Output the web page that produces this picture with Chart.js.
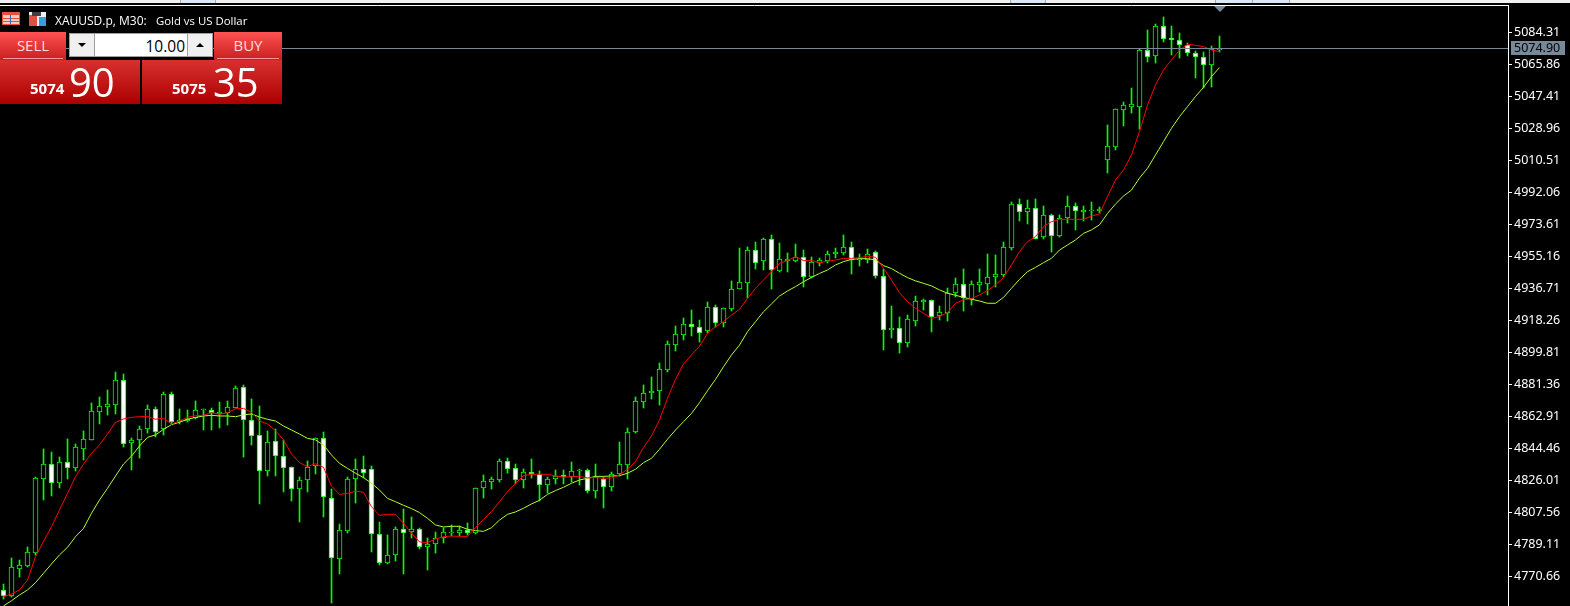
<!DOCTYPE html>
<html>
<head>
<meta charset="utf-8">
<title>XAUUSD.p, M30</title>
<script src="https://cdn.jsdelivr.net/npm/chart.js@4"></script>
<style>
html,body{margin:0;padding:0;background:#000;width:1570px;height:606px;overflow:hidden}
#c{position:absolute;left:0;top:0}
.abs{position:absolute;box-sizing:border-box}
#strip{left:0;top:0;width:1570px;height:3px;background:#f0f0f0}
#strip s{position:absolute;top:0;height:3px;background:#dce8f6;border-left:1px solid #a8a8a8;border-right:1px solid #a8a8a8;box-sizing:border-box}
#title{left:55px;top:12px;color:#fff;font:12px "Open Sans";white-space:pre}
#title span{font-size:11.4px;margin-left:3px}
.btn{top:32px;height:28px;background:linear-gradient(#ff5252,#c81e1e);color:#ffdcdc;font:15px "Open Sans";text-align:center;line-height:26px}
.btn i{position:absolute;left:3px;right:3px;bottom:1px;height:1px;background:#ff9a9a}
.box{top:60px;height:44px;background:linear-gradient(#d83030,#ac0000);color:#fff;white-space:nowrap}
.box b{position:absolute;font:bold 15px "Open Sans";top:18px}
.box span{position:absolute;font:40px "Open Sans";top:-6px}
#spin{left:69px;top:33px;width:144px;height:24px;background:#fff;border:1px solid #a0a0a0}
#spin div{position:absolute;top:0;height:22px;width:24px;background:#f0f0f0;border-right:1px solid #a0a0a0}
#spin u{position:absolute;left:8px;width:0;height:0;border-left:4px solid transparent;border-right:4px solid transparent}
#lots{position:absolute;right:27px;top:1px;font:15.5px "Open Sans";color:#000}
</style>
</head>
<body>
<canvas id="c" width="1570" height="606"></canvas>
<div class="abs" id="strip"><s style="left:180px;width:36px"></s><s style="left:1010px;width:36px"></s><s style="left:1215px;width:38px"></s><s style="left:1252px;width:38px"></s></div>
<svg class="abs" style="left:2px;top:12px" width="46" height="14">
<rect x="0" y="0" width="18" height="13" fill="#e8503c"/><rect x="1" y="3" width="16" height="3" fill="#f4c8c0"/><rect x="1" y="7" width="16" height="2" fill="#f4c8c0"/><rect x="1" y="10" width="16" height="2" fill="#f4c8c0"/><rect x="8" y="3" width="1" height="9" fill="#3060c0"/>
<rect x="27" y="0" width="17" height="14" fill="#e8f0f8"/><rect x="27" y="3" width="8" height="11" fill="#e05040"/><rect x="37" y="5" width="7" height="9" fill="#3a9be0"/><rect x="30" y="0" width="9" height="4" fill="#404040"/>
</svg>
<div class="abs" id="title">XAUUSD.p, M30:  <span>Gold vs US Dollar</span></div>
<div class="abs btn" style="left:0;width:66px">SELL<i></i></div>
<div class="abs btn" style="left:214px;width:68px">BUY<i></i></div>
<div class="abs" id="spin">
<div style="left:0"><u style="top:9px;border-top:4px solid #000"></u></div>
<div style="right:0;left:auto;border-right:0;border-left:1px solid #a0a0a0"><u style="top:9px;border-bottom:4px solid #000"></u></div>
<span id="lots">10.00</span>
</div>
<div class="abs box" style="left:0;width:140px"><b style="left:30px">5074</b><span style="left:69px">90</span></div>
<div class="abs box" style="left:142px;width:140px"><b style="left:30px">5075</b><span style="left:71px">35</span></div>
<script>
var tickValues = [5084.31,5065.86,5047.41,5028.96,5010.51,4992.06,4973.61,4955.16,4936.71,4918.26,4899.81,4881.36,4862.91,4844.46,4826.01,4807.56,4789.11,4770.66];
var currentPrice = 5074.90;

var opens = [4762.7,4759.6,4775.2,4776.9,4784.4,4827.1,4835.3,4824.8,4836.5,4833.4,
4844.4,4849.6,4865.7,4868.6,4869.7,4883.8,4847.4,4849.6,4855.5,4867.1,
4855.5,4875.7,4859.6,4860.1,4861.9,4866.5,4866.9,4864.2,4865.1,4868.0,
4879.7,4860.7,4852.1,4831.3,4848.6,4840.0,4833.6,4820.9,4826.1,4834.2,
4850.3,4815.7,4780.9,4797.1,4826.7,4832.5,4832.5,4795.0,4778.3,4782.9,
4797.9,4796.1,4797.9,4787.5,4789.2,4792.7,4795.9,4795.9,4797.3,4795.6,
4821.5,4825.3,4826.5,4837.1,4833.0,4826.1,4830.7,4829.6,4823.2,4826.7,
4829.0,4827.8,4831.3,4831.9,4819.8,4827.1,4822.1,4829.6,4834.8,4854.2,
4871.5,4876.3,4877.8,4889.9,4904.3,4910.1,4916.0,4914.3,4912.0,4925.8,
4917.0,4925.1,4936.6,4940.1,4958.7,4952.4,4965.1,4947.0,4952.8,4952.8,
4955.1,4943.3,4951.4,4952.8,4956.4,4957.4,4960.4,4953.0,4953.4,4957.6,
4943.8,4913.0,4913.8,4905.5,4918.2,4929.1,4929.9,4921.1,4922.8,4934.1,
4939.1,4930.5,4938.9,4939.5,4943.2,4944.5,4960.3,4985.3,4980.7,4983.0,
4966.2,4978.9,4966.8,4977.2,4984.1,4981.0,4981.2,4981.2,5011.0,5018.5,
5039.8,5041.5,5041.5,5074.0,5071.0,5087.9,5081.0,5079.8,5076.9,5072.3,
5070.0,5065.4,5074.6];
var closes = [4759.6,4776.0,4777.1,4784.6,4827.3,4835.3,4824.8,4836.5,4833.4,4845.1,
4849.8,4865.9,4868.8,4869.9,4883.8,4847.3,4849.2,4855.5,4867.1,4854.2,
4875.7,4859.9,4860.7,4861.5,4866.9,4867.1,4864.9,4865.3,4868.2,4879.2,
4860.7,4851.9,4831.3,4848.0,4840.0,4833.4,4820.9,4826.1,4833.6,4850.3,
4816.3,4781.1,4797.3,4826.7,4832.5,4830.5,4795.0,4778.3,4782.9,4797.9,
4795.6,4797.9,4787.5,4789.2,4792.7,4796.5,4796.5,4797.3,4795.6,4821.5,
4825.5,4826.7,4837.1,4832.5,4826.1,4830.7,4829.8,4823.2,4826.7,4828.8,
4828.0,4831.3,4832.1,4819.8,4828.0,4822.1,4829.6,4835.3,4853.8,4871.7,
4876.3,4877.8,4890.1,4904.5,4910.3,4916.0,4914.7,4911.2,4925.8,4917.0,
4925.3,4936.2,4940.3,4958.7,4951.6,4965.1,4947.2,4953.5,4953.5,4955.1,
4943.5,4951.8,4952.9,4956.4,4957.6,4960.4,4953.3,4953.9,4956.8,4944.1,
4913.0,4913.8,4905.5,4919.0,4929.3,4929.9,4920.5,4923.0,4934.1,4939.1,
4931.5,4939.1,4940.3,4943.2,4944.9,4960.4,4985.3,4980.7,4983.0,4965.5,
4978.9,4966.8,4977.2,4984.1,4981.2,4981.8,4981.8,4982.6,5018.7,5040.0,
5042.3,5042.9,5074.0,5070.4,5087.9,5080.8,5079.8,5076.9,5072.3,5070.4,
5065.4,5074.6,5075.0];
var highs = [4766.3,4781.1,4780.0,4787.7,4828.0,4844.2,4842.3,4839.6,4849.9,4847.1,
4854.6,4870.7,4874.2,4878.2,4888.4,4887.4,4850.3,4857.4,4869.4,4868.4,
4876.9,4876.9,4867.1,4866.5,4871.7,4867.1,4867.6,4871.1,4871.7,4880.3,
4880.9,4872.8,4868.8,4854.6,4855.5,4849.6,4834.0,4827.8,4837.1,4850.3,
4853.8,4821.1,4800.9,4827.8,4838.4,4840.0,4834.2,4801.9,4794.6,4799.0,
4809.6,4804.8,4798.4,4792.9,4796.1,4798.4,4800.2,4799.6,4801.3,4821.7,
4829.2,4828.0,4838.2,4838.8,4835.3,4832.5,4838.4,4831.5,4828.0,4832.1,
4832.1,4836.5,4832.5,4832.5,4835.3,4828.0,4830.7,4848.2,4856.1,4874.0,
4880.9,4885.5,4893.6,4906.2,4914.9,4919.7,4924.3,4918.5,4928.7,4927.0,
4925.3,4941.0,4960.1,4960.4,4963.5,4965.6,4967.6,4962.9,4957.2,4962.4,
4958.9,4954.7,4954.1,4958.1,4959.9,4967.6,4963.3,4956.6,4959.3,4958.2,
4948.0,4926.6,4920.1,4921.3,4932.2,4930.7,4929.9,4926.6,4936.8,4942.8,
4948.0,4940.9,4948.0,4956.6,4956.0,4963.5,4986.4,4988.2,4987.8,4988.3,
4984.3,4979.5,4978.9,4990.1,4986.0,4984.1,4986.4,4983.5,5031.0,5040.0,
5044.3,5052.3,5074.6,5085.8,5089.0,5093.1,5087.9,5084.0,5078.1,5073.4,
5073.1,5076.3,5082.3];
var lows = [4757.9,4758.7,4770.4,4776.1,4783.1,4814.8,4817.1,4821.7,4826.9,4831.5,
4837.8,4849.6,4858.6,4863.8,4864.4,4845.3,4832.1,4839.0,4853.4,4851.1,
4852.3,4858.6,4858.6,4859.6,4861.5,4855.1,4855.1,4856.3,4858.0,4867.6,
4839.6,4846.5,4812.5,4828.6,4828.6,4819.4,4814.2,4802.1,4819.4,4829.8,
4805.0,4755.4,4772.1,4795.7,4812.9,4827.3,4784.8,4777.3,4777.9,4779.6,
4772.1,4792.9,4786.5,4774.4,4784.2,4790.0,4794.2,4794.0,4794.6,4795.2,
4815.9,4821.1,4825.3,4830.3,4823.8,4821.7,4827.3,4814.4,4818.8,4824.0,
4824.0,4825.2,4823.4,4818.8,4815.9,4810.2,4820.0,4828.4,4827.1,4853.6,
4867.6,4873.0,4869.5,4888.6,4900.7,4907.0,4909.3,4905.9,4911.2,4914.5,
4914.7,4923.9,4936.6,4931.0,4947.9,4947.4,4936.4,4946.2,4946.2,4952.2,
4937.6,4942.6,4949.9,4951.6,4954.1,4956.0,4945.1,4949.7,4951.6,4942.8,
4901.3,4908.2,4899.5,4903.0,4915.1,4924.3,4911.7,4918.6,4918.0,4931.8,
4923.8,4927.2,4934.5,4933.0,4937.6,4943.6,4958.9,4975.7,4973.7,4965.1,
4965.5,4957.8,4966.6,4974.5,4970.5,4975.7,4976.2,4980.1,5003.5,5016.6,
5030.4,5037.9,5028.7,5067.3,5066.7,5078.8,5071.3,5069.6,5070.8,5058.1,
5052.3,5052.9,5073.3];
var maFast = [4759.0,4760.6,4762.9,4768.6,4782.1,4790.8,4799.4,4809.0,4818.6,4828.2,
4835.5,4841.7,4846.5,4852.8,4859.6,4861.5,4862.4,4862.8,4863.0,4861.3,
4861.9,4858.6,4860.3,4862.4,4863.4,4863.6,4865.1,4864.2,4865.1,4867.4,
4867.6,4865.3,4860.3,4858.6,4854.8,4849.4,4841.3,4836.3,4834.0,4835.7,
4833.6,4822.8,4818.0,4818.6,4819.8,4819.2,4810.9,4805.9,4806.5,4806.5,
4801.3,4795.6,4790.6,4790.2,4792.3,4793.6,4794.0,4793.8,4793.8,4798.8,
4803.6,4808.1,4813.8,4819.6,4824.4,4828.8,4829.6,4829.6,4829.6,4828.6,
4828.0,4828.2,4828.4,4827.5,4827.7,4827.3,4827.5,4829.2,4832.5,4836.9,
4845.1,4851.7,4860.9,4873.4,4884.3,4893.2,4898.4,4903.5,4910.9,4914.7,
4917.6,4921.4,4924.7,4931.0,4936.8,4941.6,4946.4,4951.2,4952.8,4955.1,
4952.8,4952.8,4951.6,4952.4,4953.1,4954.1,4954.1,4954.5,4955.3,4954.7,
4948.4,4941.6,4934.3,4929.1,4925.3,4922.4,4919.5,4920.5,4922.8,4928.2,
4930.1,4930.9,4933.0,4935.5,4938.8,4943.0,4950.3,4958.0,4963.7,4966.6,
4972.4,4975.3,4976.6,4976.6,4976.6,4976.6,4978.5,4979.7,4989.7,4999.3,
5005.1,5013.7,5027.2,5042.5,5054.1,5062.7,5068.5,5074.2,5077.5,5076.9,
5076.2,5074.2,5073.3];
var maSlow = [4753.7,4756.7,4760.0,4762.9,4767.1,4772.5,4777.9,4783.1,4787.5,4793.6,
4798.4,4807.1,4814.8,4821.5,4828.6,4835.5,4840.1,4845.9,4850.9,4852.3,
4855.5,4858.2,4859.6,4861.3,4862.4,4863.2,4863.6,4863.2,4863.2,4862.8,
4863.8,4864.4,4862.6,4861.3,4860.3,4857.4,4855.1,4852.8,4850.3,4849.4,
4846.5,4840.7,4835.9,4833.0,4830.2,4827.7,4824.4,4820.5,4815.7,4813.8,
4811.7,4809.8,4807.5,4804.2,4800.4,4799.2,4799.6,4799.6,4797.9,4797.1,
4796.7,4798.8,4803.2,4806.5,4807.9,4810.0,4812.5,4814.6,4818.0,4820.2,
4822.1,4824.4,4826.3,4827.3,4828.4,4828.4,4828.6,4828.8,4830.2,4832.5,
4836.3,4838.8,4844.0,4849.8,4855.1,4859.9,4864.7,4870.9,4877.8,4884.3,
4891.6,4898.4,4904.1,4911.8,4917.6,4923.3,4927.8,4932.4,4935.3,4937.8,
4940.6,4943.1,4945.4,4947.4,4950.3,4952.2,4953.5,4953.9,4953.9,4953.2,
4949.9,4948.2,4945.5,4943.0,4941.1,4939.7,4938.2,4935.9,4934.0,4932.8,
4931.6,4930.5,4929.5,4928.2,4928.2,4931.6,4936.8,4942.0,4946.4,4948.9,
4951.6,4954.1,4958.9,4961.8,4964.7,4968.5,4970.5,4973.4,4980.0,4985.4,
4990.0,4993.5,5000.4,5006.0,5013.7,5021.4,5029.1,5035.8,5041.6,5047.4,
5052.7,5058.9,5064.1];

var bodyData = opens.map(function(o,i){return {x:i,y:[o,closes[i]]};});
var wickData = highs.map(function(h,i){return {x:i,y:[lows[i],h]};});
var fastData = maFast.map(function(v,i){return {x:i,y:v};});
var slowData = maSlow.map(function(v,i){return {x:i,y:v};});

// snap bar edges to whole pixels, terminal charts are not antialiased
var snapBars = {
    id:'snapBars',
    afterDatasetsUpdate:function(chart){
        chart.data.datasets.forEach(function(ds,n){
            if(ds.type !== 'bar') return;
            chart.getDatasetMeta(n).data.forEach(function(el){
                var a = Math.round(el.y), b = Math.round(el.base);
                if(a === b) b = a+1;
                el.y = a; el.base = b; el.height = Math.abs(b-a);
            });
        });
    }
};

var priceMarks = {
    id:'priceMarks',
    afterDatasetsDraw:function(chart){
        var ctx = chart.ctx, y = chart.scales.y, x = chart.scales.x;
        var py = Math.floor(y.getPixelForValue(currentPrice))+0.5;
        ctx.save();
        ctx.strokeStyle = '#778899';
        ctx.lineWidth = 1;
        ctx.beginPath();
        ctx.moveTo(0,py);
        ctx.lineTo(chart.chartArea.right,py);
        ctx.stroke();
        // marker above the last bar
        var mx = x.getPixelForValue(opens.length-1)+0.5;
        ctx.fillStyle = '#778899';
        ctx.beginPath();
        ctx.moveTo(mx-6,6);
        ctx.lineTo(mx+6,6);
        ctx.lineTo(mx,12);
        ctx.fill();
        ctx.fillRect(1511,41,54,14);
        ctx.fillStyle = '#000';
        ctx.font = '12.5px "Noto Sans"';
        ctx.textBaseline = 'middle';
        ctx.fillText(currentPrice.toFixed(2),1514,48);
        ctx.restore();
    }
};

new Chart(document.getElementById('c'),{
    type:'bar',
    data:{
        datasets:[
            {type:'line',data:fastData,borderColor:'#ff0000',borderWidth:1,pointRadius:0,tension:0,order:1},
            {type:'line',data:slowData,borderColor:'#adff2f',borderWidth:1,pointRadius:0,tension:0,order:2},
            {type:'bar',data:bodyData,barThickness:5,borderWidth:1,borderColor:'#00ff00',borderSkipped:false,
                backgroundColor:function(c){
                    var i = c.dataIndex;
                    return closes[i] < opens[i] ? '#ffffff' : '#000000';
                },order:3},
            {type:'bar',data:wickData,barThickness:1,backgroundColor:'#00ff00',order:4}
        ]
    },
    options:{
        responsive:false,
        animation:false,
        events:[],
        layout:{padding:{top:5,left:0,right:0,bottom:0}},
        plugins:{legend:{display:false},tooltip:{enabled:false}},
        datasets:{bar:{grouped:false}},
        scales:{
            x:{
                type:'linear',
                position:'top',
                min:-0.4375,
                max:188.0625,
                offset:false,
                ticks:{display:false},
                grid:{display:false,drawTicks:false},
                border:{display:true,color:'#ffffff',width:1},
                afterFit:function(s){s.height = 0;}
            },
            y:{
                type:'linear',
                position:'right',
                min:4753.65,
                max:5100.165,
                afterBuildTicks:function(s){
                    s.ticks = tickValues.map(function(v){return {value:v};});
                },
                afterFit:function(s){s.width = 62;s.paddingTop = 0;s.paddingBottom = 0;},
                ticks:{
                    color:'#ffffff',
                    autoSkip:false,
                    maxRotation:0,
                    padding:2,
                    font:{family:'"Noto Sans"',size:12.5},
                    callback:function(v){return Number(v).toFixed(2);}
                },
                grid:{drawOnChartArea:false,drawTicks:true,tickLength:4,tickColor:'#ffffff',color:'#ffffff'},
                border:{display:true,color:'#ffffff',width:1}
            }
        }
    },
    plugins:[snapBars,priceMarks]
});
</script>
</body>
</html>
